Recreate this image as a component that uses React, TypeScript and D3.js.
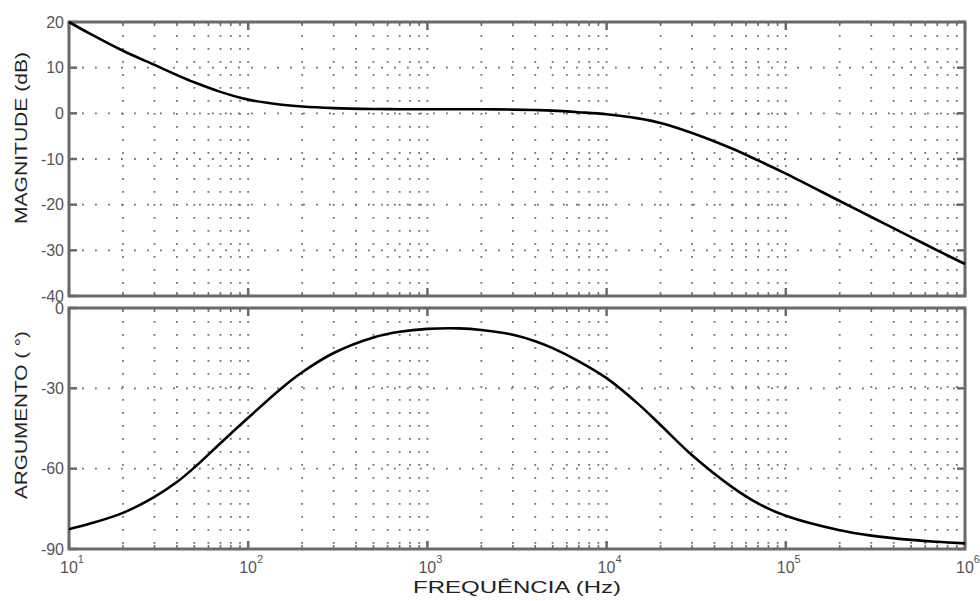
import * as d3 from 'd3';
import React, { useRef, useEffect } from 'react';

// values
const freqs = [10, 13, 20, 30, 40, 50, 70, 100, 150, 200, 300, 500, 700, 1000, 1500, 2000, 3000, 4000, 5000, 7000, 1e4, 1.5e4, 2e4, 3e4, 5e4, 7e4, 1e5, 2e5, 3e5, 5e5, 7e5, 1e6];
const magnitudeDb = [20.0, 17.5, 13.7, 10.6, 8.4, 6.8, 4.7, 3.0, 1.95, 1.5, 1.15, 0.95, 0.9, 0.9, 0.9, 0.88, 0.82, 0.72, 0.6, 0.25, -0.2, -1.1, -2.1, -4.3, -7.7, -10.3, -13.2, -19.2, -22.7, -27.1, -30.0, -33.0];
const phaseDeg = [-82.6, -80.6, -76.5, -70.5, -65.0, -59.6, -50.5, -41.0, -30.5, -24.0, -16.8, -11.0, -8.9, -7.8, -7.6, -8.2, -10.0, -12.4, -15.0, -19.9, -26.2, -35.8, -43.7, -55.0, -66.8, -73.0, -77.6, -83.0, -85.0, -86.6, -87.3, -87.9];
const magTicks = [20, 10, 0, -10, -20, -30, -40];
const phaseTicks = [0, -30, -60, -90];
const decades = [1, 2, 3, 4, 5, 6];

const W = 980;
const H = 601;
const left = 69;
const right = 965;
const frame = '#6a6a6a';
const labelColor = '#555';

function App() {
  const svgRef = useRef(null);

  useEffect(() => {
    const svg = d3.select(svgRef.current);
    svg.selectAll('*').remove();

    const x = d3.scaleLog().domain([10, 1e6]).range([left, right]);
    const logTicks = x.ticks();
    const isMajor = (d) => Math.abs(Math.log10(d) - Math.round(Math.log10(d))) < 1e-9;

    const panels = [
      { top: 22, bottom: 296, domain: [-40, 20], ticks: magTicks, values: magnitudeDb },
      { top: 308, bottom: 549, domain: [-90, 0], ticks: phaseTicks, values: phaseDeg },
    ];

    panels.forEach((p) => {
      const y = d3.scaleLinear().domain(p.domain).range([p.bottom, p.top]);
      const g = svg.append('g');

      // dotted grid
      g.selectAll('.vgrid')
        .data(logTicks.filter((t) => t > 10 && t < 1e6))
        .join('line')
        .attr('x1', (d) => x(d))
        .attr('x2', (d) => x(d))
        .attr('y1', p.top)
        .attr('y2', p.bottom)
        .attr('stroke', '#707070')
        .attr('stroke-width', 1.8)
        .attr('stroke-dasharray', '1.8 11.2');

      g.selectAll('.hgrid')
        .data(p.ticks.filter((t) => t > p.domain[0] && t < p.domain[1]))
        .join('line')
        .attr('x1', left)
        .attr('x2', right)
        .attr('y1', (d) => y(d))
        .attr('y2', (d) => y(d))
        .attr('stroke', '#707070')
        .attr('stroke-width', 1.8)
        .attr('stroke-dasharray', '1.8 11.2');

      // inward ticks on top and bottom edges
      [p.top, p.bottom].forEach((edge) => {
        const dir = edge === p.top ? 1 : -1;
        g.selectAll(null)
          .data(logTicks)
          .join('line')
          .attr('x1', (d) => x(d))
          .attr('x2', (d) => x(d))
          .attr('y1', edge)
          .attr('y2', (d) => edge + dir * (isMajor(d) ? 8 : 4))
          .attr('stroke', frame)
          .attr('stroke-width', (d) => (isMajor(d) ? 2.5 : 1.6));
      });

      // inward ticks on left and right edges
      [left, right].forEach((edge) => {
        const dir = edge === left ? 1 : -1;
        g.selectAll(null)
          .data(p.ticks)
          .join('line')
          .attr('x1', edge)
          .attr('x2', edge + dir * 8)
          .attr('y1', (d) => y(d))
          .attr('y2', (d) => y(d))
          .attr('stroke', frame)
          .attr('stroke-width', 2.5);
      });

      g.append('rect')
        .attr('x', left)
        .attr('y', p.top)
        .attr('width', right - left)
        .attr('height', p.bottom - p.top)
        .attr('fill', 'none')
        .attr('stroke', frame)
        .attr('stroke-width', 3);

      g.selectAll('.ylab')
        .data(p.ticks)
        .join('text')
        .attr('x', left - 5)
        .attr('y', (d) => y(d))
        .attr('dy', '0.36em')
        .attr('text-anchor', 'end')
        .attr('font-size', 16)
        .attr('fill', labelColor)
        .text((d) => String(d));

      const line = d3
        .line()
        .x((d, i) => x(freqs[i]))
        .y((d) => y(d))
        .curve(d3.curveCatmullRom.alpha(0.5));

      g.append('path')
        .datum(p.values)
        .attr('d', line)
        .attr('fill', 'none')
        .attr('stroke', '#000')
        .attr('stroke-width', 2.6);
    });

    // decade labels 10^n
    const xl = svg
      .selectAll('.xlab')
      .data(decades)
      .join('text')
      .attr('x', (d) => x(Math.pow(10, d)) - 9)
      .attr('y', 573)
      .attr('font-size', 16)
      .attr('fill', labelColor);
    xl.append('tspan').text('10');
    xl.append('tspan').attr('font-size', 11).attr('dy', -10).text((d) => String(d));

    const title = (text, tx, ty, rot, len) =>
      svg.append('text')
        .attr('transform', `translate(${tx},${ty}) rotate(${rot})`)
        .attr('text-anchor', 'middle')
        .attr('font-size', 17)
        .attr('fill', '#222')
        .attr('textLength', len)
        .attr('lengthAdjust', 'spacingAndGlyphs')
        .text(text);

    title('FREQUÊNCIA (Hz)', (left + right) / 2, 593, 0, 208);
    title('MAGNITUDE (dB)', 27, 138, -90, 172);
    title('ARGUMENTO ( °)', 27, 415, -90, 168);
  }, []);

  return (
    <svg
      ref={svgRef}
      width={W}
      height={H}
      style={{ position: 'absolute', left: 0, top: 0, background: '#fff', fontFamily: 'Arial, "Liberation Sans", sans-serif' }}
    />
  );
}

export default App;
